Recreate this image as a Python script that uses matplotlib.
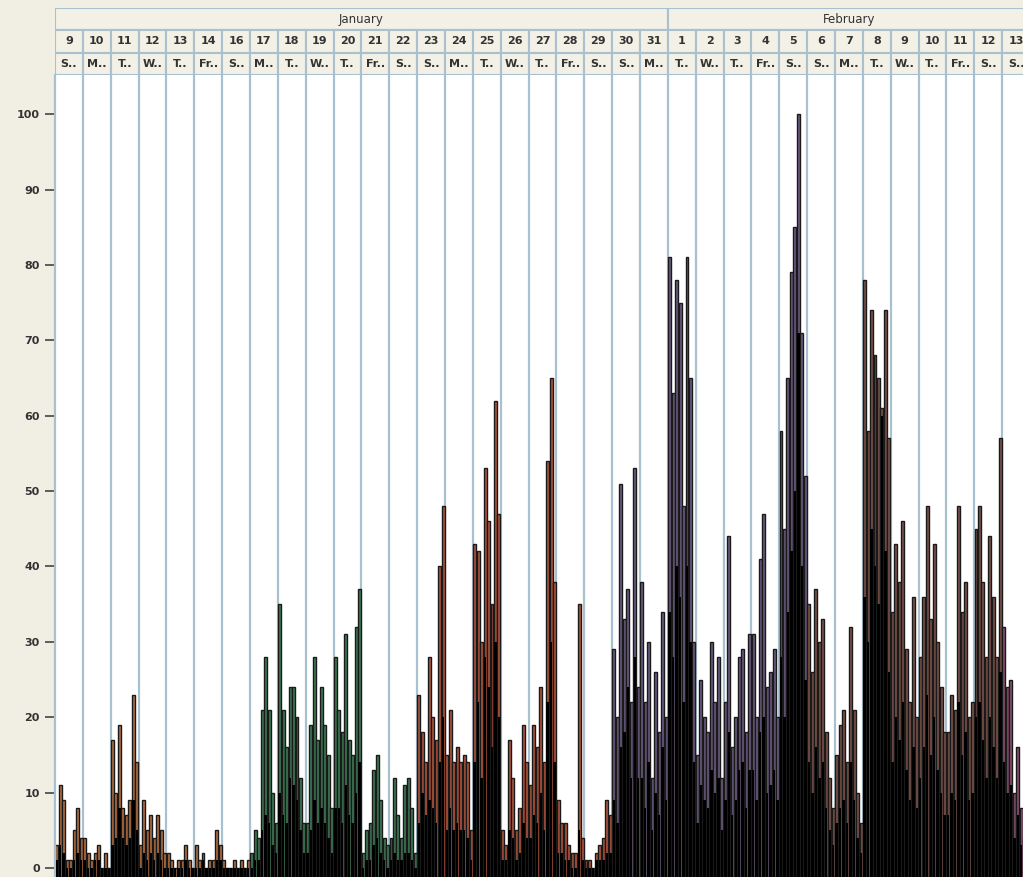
import matplotlib
matplotlib.use("Agg")
import matplotlib.pyplot as plt
from matplotlib.patches import Rectangle
import numpy as np

# Dias mostrados (el 15 de enero no aparece)
day_numbers = [9, 10, 11, 12, 13, 14, 16, 17, 18, 19, 20, 21, 22, 23, 24, 25, 26,
               27, 28, 29, 30, 31, 1, 2, 3, 4, 5, 6, 7, 8, 9, 10, 11, 12, 13]
weekdays = ["S..", "M..", "T..", "W..", "T..", "Fr..", "S..", "M..", "T..", "W..",
            "T..", "Fr..", "S..", "S..", "M..", "T..", "W..", "T..", "Fr..", "S..",
            "S..", "M..", "T..", "W..", "T..", "Fr..", "S..", "S..", "M..", "T..",
            "W..", "T..", "Fr..", "S..", "S.."]
month_names = ["January", "February"]
month_lengths = [22, 13]

# Colores por periodo y cuantos dias dura cada uno
period_colors = ["#b5703f", "#3d7a55", "#b2553c", "#6d5b82", "#7b5349", "#8c4f70"]
period_lengths = [7, 6, 7, 7, 7, 1]

# Conteos por dia (8 intervalos por dia)
totals = [
    [3, 11, 9, 1, 1, 5, 8, 4],        # Jan 9
    [4, 2, 1, 2, 3, 0, 2, 0],         # Jan 10
    [17, 10, 19, 8, 7, 9, 23, 14],    # Jan 11
    [3, 9, 5, 7, 4, 7, 5, 2],         # Jan 12
    [2, 1, 0, 1, 1, 3, 1, 0],         # Jan 13
    [3, 1, 2, 0, 1, 1, 5, 3],         # Jan 14
    [1, 0, 0, 1, 0, 1, 0, 1],         # Jan 16
    [2, 5, 4, 21, 28, 21, 10, 6],     # Jan 17
    [35, 21, 16, 24, 24, 20, 12, 6],  # Jan 18
    [6, 19, 28, 17, 24, 19, 15, 8],   # Jan 19
    [28, 21, 18, 31, 17, 15, 32, 37], # Jan 20
    [2, 5, 6, 13, 15, 9, 4, 3],       # Jan 21
    [4, 12, 7, 4, 11, 12, 8, 2],      # Jan 22
    [23, 18, 14, 28, 20, 17, 40, 48], # Jan 23
    [15, 21, 14, 16, 14, 15, 14, 5],  # Jan 24
    [43, 42, 30, 53, 46, 35, 62, 47], # Jan 25
    [5, 3, 17, 12, 5, 8, 19, 14],     # Jan 26
    [11, 19, 16, 24, 14, 54, 65, 38], # Jan 27
    [9, 6, 6, 3, 2, 2, 35, 4],        # Jan 28
    [1, 1, 0, 2, 3, 4, 9, 7],         # Jan 29
    [29, 20, 51, 33, 37, 22, 53, 24], # Jan 30
    [38, 22, 30, 12, 26, 18, 34, 20], # Jan 31
    [81, 63, 78, 75, 48, 81, 65, 30], # Feb 1
    [15, 25, 20, 18, 30, 22, 28, 12], # Feb 2
    [22, 44, 16, 20, 28, 29, 18, 31], # Feb 3
    [31, 20, 41, 47, 24, 26, 29, 20], # Feb 4
    [58, 45, 65, 79, 85, 100, 71, 52],# Feb 5
    [35, 26, 37, 30, 33, 18, 12, 8],  # Feb 6
    [15, 19, 21, 14, 32, 21, 10, 6],  # Feb 7
    [78, 58, 74, 68, 65, 61, 74, 57], # Feb 8
    [34, 43, 38, 46, 29, 22, 36, 20], # Feb 9
    [28, 36, 48, 33, 43, 30, 24, 18], # Feb 10
    [18, 23, 21, 48, 34, 38, 20, 22], # Feb 11
    [45, 48, 38, 28, 44, 36, 28, 57], # Feb 12
    [32, 24, 25, 10, 16, 8, 4, 2],    # Feb 13
]

# Parte oscura de cada barra
dark = [
    [1, 3, 2, 0, 0, 1, 2, 1],
    [1, 0, 0, 1, 1, 0, 0, 0],
    [3, 4, 8, 4, 3, 4, 9, 5],
    [0, 2, 1, 2, 1, 2, 1, 0],
    [0, 0, 0, 0, 0, 1, 0, 0],
    [0, 0, 1, 0, 0, 0, 1, 1],
    [0, 0, 0, 0, 0, 0, 0, 0],
    [0, 1, 1, 5, 7, 6, 3, 2],
    [10, 7, 6, 12, 11, 9, 5, 2],
    [2, 5, 9, 6, 8, 6, 4, 2],
    [8, 8, 6, 11, 7, 6, 10, 14],
    [0, 1, 1, 3, 4, 2, 1, 0],
    [1, 2, 1, 1, 2, 2, 1, 0],
    [6, 10, 7, 9, 8, 6, 14, 20],
    [5, 8, 5, 6, 5, 5, 4, 1],
    [14, 22, 12, 28, 24, 16, 30, 20],
    [1, 1, 5, 4, 1, 2, 6, 4],
    [4, 7, 6, 10, 5, 22, 30, 14],
    [2, 2, 1, 1, 0, 0, 5, 1],
    [0, 0, 0, 1, 1, 1, 2, 2],
    [9, 6, 16, 18, 24, 12, 28, 12],
    [12, 8, 14, 5, 10, 7, 16, 9],
    [34, 28, 40, 36, 22, 40, 30, 14],
    [6, 11, 9, 8, 13, 10, 12, 5],
    [9, 18, 7, 9, 13, 14, 8, 13],
    [13, 9, 18, 20, 10, 11, 13, 9],
    [28, 20, 34, 42, 50, 71, 40, 25],
    [14, 10, 16, 12, 14, 8, 5, 3],
    [6, 8, 9, 6, 14, 9, 4, 2],
    [36, 30, 45, 40, 35, 60, 42, 26],
    [14, 20, 17, 22, 13, 9, 16, 8],
    [12, 16, 23, 15, 20, 13, 10, 7],
    [7, 10, 9, 22, 15, 18, 9, 10],
    [20, 22, 17, 12, 20, 16, 12, 26],
    [14, 10, 11, 4, 7, 3, 1, 0],
]

W, H = 1023, 877
beige = "#f1eee3"
grid_blue = "#a9c1cf"
x_max = 34.75
y_min, y_max = -1.2, 105.2

fig = plt.figure(figsize=(W / 100, H / 100), dpi=100, facecolor=beige)
ax = fig.add_axes([55 / W, 0, 1 - 55 / W, 1 - 75 / H])
ax.set_facecolor("white")

day_colors = []
for c, n in zip(period_colors, period_lengths):
    day_colors += [c] * n

nb = 8
bw = 1 / nb
for i in range(len(totals)):
    xs = i + (np.arange(nb) + 0.5) * bw
    ax.bar(xs, np.array(totals[i]) - y_min, bottom=y_min, width=bw * 0.85,
           color=day_colors[i], edgecolor="#1a1a1a", linewidth=1.0, zorder=2)
    ax.bar(xs, np.array(dark[i]) - y_min, bottom=y_min, width=bw * 0.7,
           color="black", linewidth=0, zorder=3)

# lineas verticales entre dias
for i in range(1, len(day_numbers)):
    ax.axvline(i, color=grid_blue, linewidth=1.6, zorder=1)

ax.set_xlim(0, x_max)
ax.set_ylim(y_min, y_max)
ax.set_xticks([])
ax.set_yticks(range(0, 101, 10))
ax.tick_params(axis="y", length=7, width=1.2, color="#444444", pad=4,
               labelsize=8, labelcolor="#333333")
for lab in ax.get_yticklabels():
    lab.set_fontweight("bold")
for s in ["top", "right", "bottom"]:
    ax.spines[s].set_visible(False)
ax.spines["left"].set_color(grid_blue)
ax.spines["left"].set_linewidth(1.6)

# Cabecera: mes, dia y dia de la semana
hx = fig.add_axes([55 / W, 1 - 75 / H, 1 - 55 / W, 67 / H])
hx.set_xlim(0, x_max)
hx.set_ylim(0, 3)
hx.axis("off")
cell = "#f3f0e6"
start = 0
for name, n in zip(month_names, month_lengths):
    hx.add_patch(Rectangle((start, 2), n, 1, facecolor=cell, edgecolor=grid_blue, linewidth=1.5))
    hx.text(start + n / 2, 2.5, name, ha="center", va="center", fontsize=8.5, color="#333333")
    start += n
for i, (d, wd) in enumerate(zip(day_numbers, weekdays)):
    hx.add_patch(Rectangle((i, 1), 1, 1, facecolor=cell, edgecolor=grid_blue, linewidth=1.5))
    hx.add_patch(Rectangle((i, 0), 1, 1, facecolor=cell, edgecolor=grid_blue, linewidth=1.5))
    hx.text(i + 0.5, 1.5, str(d), ha="center", va="center", fontsize=8,
            fontweight="bold", color="#333333")
    hx.text(i + 0.5, 0.5, wd, ha="center", va="center", fontsize=8,
            fontweight="bold", color="#333333")

fig.savefig("out.png", dpi=100, facecolor=beige)
